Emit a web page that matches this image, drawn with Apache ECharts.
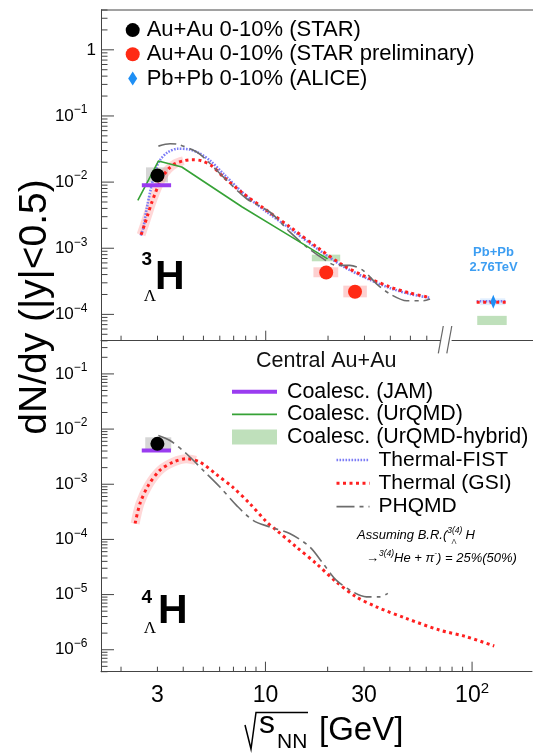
<!DOCTYPE html>
<html>
<head>
<meta charset="utf-8">
<script src="https://cdn.jsdelivr.net/npm/echarts@6/dist/echarts.min.js"></script>
<style>
  html, body { margin: 0; padding: 0; background: #fff; }
  #chart { width: 533px; height: 754px; }
</style>
</head>
<body>
<div id="chart"></div>
<script>
// ---------- data: sqrt(s_NN) [GeV], dN/dy ----------
// hypertriton (upper panel)
const starH3 = [[3.0, 1.26e-2]];
const starH3Sys = [[2.64, 3.37, 9.9e-3, 1.67e-2]];
const starPrelimH3 = [[19.6, 4.3e-4], [27.0, 2.2e-4]];
const starPrelimH3Sys = [[17.0, 22.4, 3.64e-4, 5.15e-4], [23.7, 30.8, 1.81e-4, 2.72e-4]];
const jamH3 = [[2.52, 9.0e-3], [3.49, 9.0e-3]];
const urqmdH3 = [[2.41, 5.3e-3], [3.03, 2.08e-2], [3.93, 1.69e-2], [7.7, 4.2e-3], [12.2, 1.75e-3], [19.9, 6.9e-4]];
const hybridH3 = [[16.7, 22.9, 6.35e-4, 8.0e-4]];
const fistH3 = [[2.49, 1.56e-3], [2.56, 2.0e-3], [2.66, 4.0e-3], [2.8, 8.5e-3], [2.95, 1.6e-2], [3.1, 2.2e-2],
  [3.35, 2.8e-2], [3.75, 3.2e-2], [4.3, 3.1e-2], [4.8, 2.7e-2], [5.4, 2.1e-2], [6.3, 1.3e-2], [8.0, 6.3e-3],
  [10.1, 3.55e-3], [13.1, 1.98e-3], [17.6, 1.0e-3], [23.7, 5.3e-4], [30.8, 3.5e-4], [39.8, 2.5e-4],
  [49.8, 2.03e-4], [62.2, 1.78e-4]];
const gsiH3 = [[2.5, 1.6e-3], [2.6, 2.3e-3], [2.7, 3.3e-3], [2.8, 4.7e-3], [2.92, 6.7e-3], [3.05, 9.3e-3],
  [3.2, 1.25e-2], [3.4, 1.6e-2], [3.65, 1.9e-2], [4.0, 2.1e-2], [4.4, 2.18e-2], [4.9, 2.1e-2], [5.5, 1.75e-2],
  [6.24, 1.2e-2], [7.8, 6.7e-3], [10.1, 3.75e-3], [13.1, 2.1e-3], [17.6, 1.05e-3], [23.7, 5.5e-4],
  [30.8, 3.65e-4], [39.8, 2.6e-4], [49.8, 2.1e-4], [62.2, 1.8e-4]];
const gsiH3Band = [[2.5, 1.6e-3], [2.6, 2.3e-3], [2.7, 3.3e-3], [2.8, 4.7e-3], [2.92, 6.7e-3], [3.05, 9.3e-3],
  [3.2, 1.25e-2], [3.4, 1.6e-2], [3.65, 1.9e-2], [4.0, 2.1e-2]];
const phqmdH3 = [[3.03, 3.5e-2], [3.45, 3.8e-2], [3.79, 3.7e-2], [4.64, 2.85e-2], [5.19, 2.13e-2], [6.49, 1.06e-2],
  [8.09, 5.6e-3], [10.5, 3.5e-3], [13.1, 1.75e-3], [15.8, 1.04e-3], [19.0, 6.9e-4], [22.0, 5.5e-4],
  [25.5, 5.5e-4], [29.6, 4.6e-4], [34.3, 2.9e-4], [39.8, 2.04e-4], [48.0, 1.61e-4], [57.7, 1.61e-4], [62.2, 1.71e-4]];
// LHC, Pb+Pb 2.76 TeV
const aliceH3 = [[2760, 1.55e-4]];
const aliceH3Sys = [[2000, 3700, 1.38e-4, 1.75e-4]];
const fistLHC = [[1835, 1.58e-4], [3775, 1.58e-4]];
const gsiLHC = [[1835, 1.53e-4], [3775, 1.53e-4]];
const hybridLHC = [[1860, 3840, 6.9e-5, 9.5e-5]];

// (4)Lambda-H (lower panel)
const starH4 = [[3.0, 5.4e-3]];
const starH4Sys = [[2.62, 3.5, 4.1e-3, 7.1e-3]];
const jamH4 = [[2.52, 4.1e-3], [3.49, 4.1e-3]];
const gsiH4 = [[2.34, 1.94e-4], [2.47, 4.46e-4], [2.71, 9.5e-4], [3.08, 1.78e-3], [3.58, 2.52e-3], [4.15, 2.9e-3],
  [4.82, 2.52e-3], [5.8, 1.5e-3], [6.98, 8.7e-4], [8.4, 4.46e-4], [10.1, 2.1e-4], [11.3, 1.47e-4], [14.1, 7.3e-5],
  [17.6, 3.66e-5], [22.0, 1.7e-5], [27.5, 9.1e-6], [34.4, 6.0e-6], [48.0, 3.7e-6], [69.5, 2.28e-6],
  [93.5, 1.73e-6], [128, 1.17e-6]];
const gsiH4Band = [[2.34, 1.94e-4], [2.47, 4.46e-4], [2.71, 9.5e-4], [3.08, 1.78e-3], [3.58, 2.52e-3], [4.15, 2.9e-3], [4.6, 2.7e-3]];
const phqmdH4 = [[3.03, 7.66e-3], [3.45, 6.2e-3], [4.15, 3.57e-3], [5.0, 1.78e-3], [6.02, 8.9e-4], [7.24, 4.15e-4],
  [8.71, 2.22e-4], [10.5, 1.68e-4], [13.1, 1.28e-4], [16.4, 7.3e-5], [19.0, 3.66e-5], [22.0, 1.83e-5],
  [26.5, 1.12e-5], [30.8, 9.1e-6], [35.7, 9.1e-6], [39.1, 1.05e-5]];

// ---------- axes ----------
const xRangeMain = [1.6, 69.5];
const xRangeLHC = [1000, 7330];
const xRangeBottom = [1.6, 195];
const yRangeTop = [4e-5, 4];
const yRangeBottom = [4e-7, 0.4];
const yTickLabelsTop = [1, 1e-1, 1e-2, 1e-3, 1e-4];
const yTickLabelsBottom = [1e-1, 1e-2, 1e-3, 1e-4, 1e-5, 1e-6];
const xTickLabels = [3, 10, 30, 100];

const FONT = '"Liberation Sans", Arial, Helvetica, sans-serif';
const AXIS = '#444';
const C_FIST = '#7c7cf6';
const C_GSI = '#ff2020';
const C_PHQMD = '#6c6c6c';
const C_URQMD = '#36a236';
const C_JAM = '#9a3cf0';
const C_HYBRID = '#bfe0bb';

// all 1..9 x 10^k values inside [lo, hi]
function logTicks(lo, hi) {
  const out = [];
  for (let k = Math.floor(Math.log10(lo)); k <= Math.ceil(Math.log10(hi)); k++) {
    for (let m = 1; m <= 9; m++) {
      const v = m * Math.pow(10, k);
      if (v >= lo * 0.9999 && v <= hi * 1.0001) out.push([v, m === 1 ? 1 : 0]);
    }
  }
  return out;
}

function yTicks(gi, xr, yr) {
  return {
    type: 'custom', xAxisIndex: gi, yAxisIndex: gi, silent: true, z: 6,
    data: logTicks(yr[0], yr[1]).map(t => [xr[0], t[0], t[1]]),
    renderItem: (params, api) => {
      const p = api.coord([api.value(0), api.value(1)]);
      const len = api.value(2) ? 13 : 6.5;
      return { type: 'line', shape: { x1: p[0], y1: p[1], x2: p[0] + len, y2: p[1] },
        style: { stroke: AXIS, lineWidth: 1 } };
    }
  };
}

function xTicks(gi, xr, yr) {
  return {
    type: 'custom', xAxisIndex: gi, yAxisIndex: gi, silent: true, z: 6,
    data: logTicks(xr[0], xr[1]).map(t => [t[0], yr[0], t[1]]),
    renderItem: (params, api) => {
      const p = api.coord([api.value(0), api.value(1)]);
      const len = api.value(2) ? 10 : 5;
      return { type: 'line', shape: { x1: p[0], y1: p[1], x2: p[0], y2: p[1] - len },
        style: { stroke: AXIS, lineWidth: 1 } };
    }
  };
}

const yRich = {
  b: { fontSize: 17, fontFamily: FONT, lineHeight: 24, color: '#000' },
  s: { fontSize: 12, fontFamily: FONT, lineHeight: 13, verticalAlign: 'top', color: '#000' }
};
function yLabels(gi, xr, values) {
  return {
    type: 'custom', xAxisIndex: gi, yAxisIndex: gi, silent: true, z: 6,
    data: values.map(v => [xr[0], v]),
    renderItem: (params, api) => {
      const v = api.value(1);
      const p = api.coord([api.value(0), v]);
      const e = Math.round(Math.log10(v));
      const text = e === 0 ? '{b|1}' : '{b|10}{s|' + (e < 0 ? '\u2212' : '') + Math.abs(e) + '}';
      return { type: 'text', x: p[0] - (e === 0 ? 5 : 13.5), y: p[1],
        style: { text: text, rich: yRich, align: 'right', verticalAlign: 'middle' } };
    }
  };
}

const xRich = {
  b: { fontSize: 23, fontFamily: FONT, lineHeight: 28, color: '#000' },
  s: { fontSize: 15, fontFamily: FONT, lineHeight: 15, verticalAlign: 'top', color: '#000' }
};
function xLabels(gi, yr, values) {
  return {
    type: 'custom', xAxisIndex: gi, yAxisIndex: gi, silent: true, z: 6,
    data: values.map(v => [v, yr[0]]),
    renderItem: (params, api) => {
      const v = api.value(0);
      const p = api.coord([v, api.value(1)]);
      const e = Math.log10(v);
      const text = (v >= 100 && Math.abs(e - Math.round(e)) < 1e-9) ? '{b|10}{s|' + Math.round(e) + '}' : '{b|' + v + '}';
      return { type: 'text', x: p[0], y: p[1] + 24,
        style: { text: text, rich: xRich, align: 'center', verticalAlign: 'middle' } };
    }
  };
}

// filled rectangles given as [x0, x1, y0, y1]
function boxes(name, gi, data, color, z) {
  return {
    type: 'custom', name: name, xAxisIndex: gi, yAxisIndex: gi, z: z || 1,
    itemStyle: { color: color },
    encode: { x: [0, 1], y: [2, 3] },
    data: data,
    renderItem: (params, api) => {
      const a = api.coord([api.value(0), api.value(2)]);
      const b = api.coord([api.value(1), api.value(3)]);
      return { type: 'rect',
        shape: { x: Math.min(a[0], b[0]), y: Math.min(a[1], b[1]), width: Math.abs(b[0] - a[0]), height: Math.abs(b[1] - a[1]) },
        style: { fill: color } };
    }
  };
}

function line(name, gi, data, style, extra) {
  return Object.assign({
    type: 'line', name: name, xAxisIndex: gi, yAxisIndex: gi, data: data,
    symbol: 'none', silent: true, lineStyle: style, z: 3
  }, extra || {});
}

function points(name, gi, data, color, symbol, size, extra) {
  return Object.assign({
    type: 'scatter', name: name, xAxisIndex: gi, yAxisIndex: gi, data: data,
    symbol: symbol, symbolSize: size, itemStyle: { color: color, opacity: 1 }, z: 5, silent: true
  }, extra || {});
}

const fistStyle = { color: C_FIST, width: 2.6, type: [1.6, 1.4] };
const gsiStyle = { color: C_GSI, width: 3, type: [3, 3.5] };
const phqmdStyle = { color: C_PHQMD, width: 1.6, type: [18, 5, 4, 5] };
const bandStyle = { color: 'rgba(255,140,140,0.35)', width: 9 };
const diamond = 'path://M0,-7L4.5,0L0,7L-4.5,0Z';

const axisOff = { axisTick: { show: false }, axisLabel: { show: false }, splitLine: { show: false } };
const lineOn = { show: true, lineStyle: { color: AXIS, width: 1 } };

const option = {
  animation: false,
  backgroundColor: '#fff',
  grid: [
    { left: 101, top: 10, width: 339, height: 330.7 },
    { left: 452, top: 10, width: 81, height: 330.7 },
    { left: 101, top: 340.7, width: 431, height: 331 }
  ],
  xAxis: [
    Object.assign({ gridIndex: 0, type: 'log', min: xRangeMain[0], max: xRangeMain[1], axisLine: lineOn }, axisOff),
    Object.assign({ gridIndex: 1, type: 'log', min: xRangeLHC[0], max: xRangeLHC[1], axisLine: lineOn }, axisOff),
    Object.assign({ gridIndex: 2, type: 'log', min: xRangeBottom[0], max: xRangeBottom[1], axisLine: lineOn }, axisOff)
  ],
  yAxis: [
    Object.assign({ gridIndex: 0, type: 'log', min: yRangeTop[0], max: yRangeTop[1], axisLine: lineOn }, axisOff),
    Object.assign({ gridIndex: 1, type: 'log', min: yRangeTop[0], max: yRangeTop[1], axisLine: { show: false } }, axisOff),
    Object.assign({ gridIndex: 2, type: 'log', min: yRangeBottom[0], max: yRangeBottom[1], axisLine: lineOn }, axisOff)
  ],
  legend: [
    {
      orient: 'vertical', left: 125.7, top: 18, padding: 0, itemGap: 0, itemWidth: 14, itemHeight: 14,
      selectedMode: false,
      textStyle: { fontSize: 22, fontFamily: FONT, color: '#000', lineHeight: 24.2, padding: [0, 0, 0, 2] },
      data: ['Au+Au 0-10% (STAR)', 'Au+Au 0-10% (STAR preliminary)', 'Pb+Pb 0-10% (ALICE)']
    },
    {
      orient: 'vertical', left: 230, top: 380.3, padding: 0, itemGap: 0, itemWidth: 45, itemHeight: 15,
      selectedMode: false,
      lineStyle: { width: 'inherit' },
      textStyle: { fontSize: 21.4, fontFamily: FONT, color: '#000', lineHeight: 22.7, padding: [0, 0, 0, 5] },
      data: [
        { name: 'Coalesc. (JAM)', itemStyle: { opacity: 0 } },
        { name: 'Coalesc. (UrQMD)', itemStyle: { opacity: 0 } },
        { name: 'Coalesc. (UrQMD-hybrid)', icon: 'rect' }
      ]
    },
    {
      orient: 'vertical', left: 335, top: 448.4, padding: 0, itemGap: 0, itemWidth: 33, itemHeight: 14,
      selectedMode: false,
      lineStyle: { width: 'inherit' },
      textStyle: { fontSize: 21, fontFamily: FONT, color: '#000', lineHeight: 23.3, padding: [0, 0, 0, 4] },
      data: [
        { name: 'Thermal-FIST', itemStyle: { opacity: 0 } },
        { name: 'Thermal (GSI)', itemStyle: { opacity: 0 } },
        { name: 'PHQMD', itemStyle: { opacity: 0 } }
      ]
    }
  ],
  series: [
    // upper panel: 3-Lambda-H
    boxes('STAR sys', 0, starH3Sys, 'rgba(165,165,165,0.45)', 1),
    boxes('Coalesc. (UrQMD-hybrid)', 0, hybridH3, C_HYBRID, 1),
    boxes('STAR prelim sys', 0, starPrelimH3Sys, 'rgba(250,150,150,0.45)', 1),
    line('GSI band', 0, gsiH3Band, bandStyle, { smooth: 0.3, z: 2 }),
    line('Thermal-FIST', 0, fistH3, fistStyle, { smooth: 0.3 }),
    line('Thermal (GSI)', 0, gsiH3, gsiStyle, { smooth: 0.3 }),
    line('PHQMD', 0, phqmdH3, phqmdStyle, { smooth: 0.3 }),
    line('Coalesc. (UrQMD)', 0, urqmdH3, { color: C_URQMD, width: 1.6 }),
    line('Coalesc. (JAM)', 0, jamH3, { color: C_JAM, width: 4 }),
    points('Au+Au 0-10% (STAR)', 0, starH3, '#000', 'circle', 14),
    points('Au+Au 0-10% (STAR preliminary)', 0, starPrelimH3, '#ff2a14', 'circle', 14),
    // LHC point beyond the axis break
    boxes('Coalesc. (UrQMD-hybrid)', 1, hybridLHC, C_HYBRID, 1),
    boxes('ALICE sys', 1, aliceH3Sys, 'rgba(120,180,255,0.22)', 1),
    line('Thermal-FIST', 1, fistLHC, fistStyle),
    line('Thermal (GSI)', 1, gsiLHC, gsiStyle),
    points('Pb+Pb 0-10% (ALICE)', 1, aliceH3, '#1e8ff5', diamond, [9, 14], { symbolKeepAspect: true }),
    // lower panel: 4-Lambda-H
    boxes('STAR sys', 2, starH4Sys, 'rgba(165,165,165,0.45)', 1),
    line('GSI band', 2, gsiH4Band, bandStyle, { smooth: 0.3, z: 2 }),
    line('Thermal (GSI)', 2, gsiH4, gsiStyle, { smooth: 0.3 }),
    line('PHQMD', 2, phqmdH4, phqmdStyle, { smooth: 0.3 }),
    line('Coalesc. (JAM)', 2, jamH4, { color: C_JAM, width: 4 }),
    points('Au+Au 0-10% (STAR)', 2, starH4, '#000', 'circle', 14),
    // axis ticks and labels
    yTicks(0, xRangeMain, yRangeTop),
    yTicks(2, xRangeBottom, yRangeBottom),
    xTicks(0, xRangeMain, yRangeTop),
    xTicks(2, xRangeBottom, yRangeBottom),
    yLabels(0, xRangeMain, yTickLabelsTop),
    yLabels(2, xRangeBottom, yTickLabelsBottom),
    xLabels(2, yRangeBottom, xTickLabels)
  ],
  graphic: [
    // frame top and axis break marks
    { type: 'line', shape: { x1: 101, y1: 10, x2: 533, y2: 10 }, style: { stroke: AXIS, lineWidth: 1 } },
    { type: 'line', shape: { x1: 438.3, y1: 353.3, x2: 443.3, y2: 326 }, style: { stroke: '#666', lineWidth: 1.2 } },
    { type: 'line', shape: { x1: 446.8, y1: 353.3, x2: 451.8, y2: 326 }, style: { stroke: '#666', lineWidth: 1.2 } },
    // y-axis title
    { type: 'text', x: 35, y: 307, rotation: Math.PI / 2,
      style: { text: 'dN/dy (|y|<0.5)', fontSize: 39, fontFamily: FONT, fill: '#000', align: 'center', verticalAlign: 'middle' } },
    // x-axis title
    { type: 'polyline', shape: { points: [[245, 725], [251, 749], [256, 712.5], [308, 712.5]] },
      style: { stroke: '#000', lineWidth: 1.5, fill: null } },
    { type: 'text', x: 259, y: 724, style: { text: 's', fontSize: 32, fontFamily: FONT, fill: '#000', align: 'left', verticalAlign: 'middle' } },
    { type: 'text', x: 277, y: 742, style: { text: 'NN', fontSize: 21, fontFamily: FONT, fill: '#000', align: 'left', verticalAlign: 'middle' } },
    { type: 'text', x: 319, y: 731, style: { text: '[GeV]', fontSize: 33, fontFamily: FONT, fill: '#000', align: 'left', verticalAlign: 'middle' } },
    // hypernucleus labels
    { type: 'text', x: 146.7, y: 260, style: { text: '3', fontSize: 19, fontWeight: 'bold', fontFamily: FONT, fill: '#000', align: 'center', verticalAlign: 'middle' } },
    { type: 'text', x: 150, y: 297, style: { text: '\u039B', fontSize: 17, fontFamily: '"Liberation Serif", serif', fill: '#000', align: 'center', verticalAlign: 'middle' } },
    { type: 'text', x: 155, y: 278, style: { text: 'H', fontSize: 41, fontWeight: 'bold', fontFamily: FONT, fill: '#000', align: 'left', verticalAlign: 'middle' } },
    { type: 'text', x: 146.7, y: 597.5, style: { text: '4', fontSize: 19, fontWeight: 'bold', fontFamily: FONT, fill: '#000', align: 'center', verticalAlign: 'middle' } },
    { type: 'text', x: 150, y: 629, style: { text: '\u039B', fontSize: 17, fontFamily: '"Liberation Serif", serif', fill: '#000', align: 'center', verticalAlign: 'middle' } },
    { type: 'text', x: 158, y: 612, style: { text: 'H', fontSize: 41, fontWeight: 'bold', fontFamily: FONT, fill: '#000', align: 'left', verticalAlign: 'middle' } },
    // LHC annotation
    { type: 'text', x: 493.5, y: 252.7, style: { text: 'Pb+Pb', fontSize: 13, fontWeight: 'bold', fontFamily: FONT, fill: '#3d9ef2', align: 'center', verticalAlign: 'middle' } },
    { type: 'text', x: 493.5, y: 267.3, style: { text: '2.76TeV', fontSize: 13, fontWeight: 'bold', fontFamily: FONT, fill: '#3d9ef2', align: 'center', verticalAlign: 'middle' } },
    // lower legend heading
    { type: 'text', x: 256, y: 361, style: { text: 'Central Au+Au', fontSize: 21.5, fontFamily: FONT, fill: '#111', align: 'left', verticalAlign: 'middle' } },
    // branching ratio note
    { type: 'text', x: 357, y: 535, style: {
        text: '{n|Assuming B.R.(}{s|3(4)}{n|H}',
        rich: {
          n: { fontSize: 13, fontStyle: 'italic', fontFamily: FONT, color: '#444', lineHeight: 18 },
          s: { fontSize: 8.5, fontStyle: 'italic', fontFamily: FONT, color: '#444', lineHeight: 9, verticalAlign: 'top', padding: [0, 3, 0, 0] }
        },
        align: 'left', verticalAlign: 'middle' } },
    { type: 'text', x: 451.5, y: 542, style: { text: '\u039B', fontSize: 7.5, fontFamily: FONT, fill: '#444', align: 'left', verticalAlign: 'middle' } },
    { type: 'text', x: 366, y: 558.5, style: {
        text: '{n|\u2192}{s|3(4)}{n|He + \u03C0}{s|-}{n|) = 25%(50%)}',
        rich: {
          n: { fontSize: 13, fontStyle: 'italic', fontFamily: FONT, color: '#444', lineHeight: 18 },
          s: { fontSize: 8.5, fontStyle: 'italic', fontFamily: FONT, color: '#444', lineHeight: 9, verticalAlign: 'top' }
        },
        align: 'left', verticalAlign: 'middle' } }
  ]
};

const chart = echarts.init(document.getElementById('chart'), null, { renderer: 'canvas' });
chart.setOption(option);
</script>
</body>
</html>
